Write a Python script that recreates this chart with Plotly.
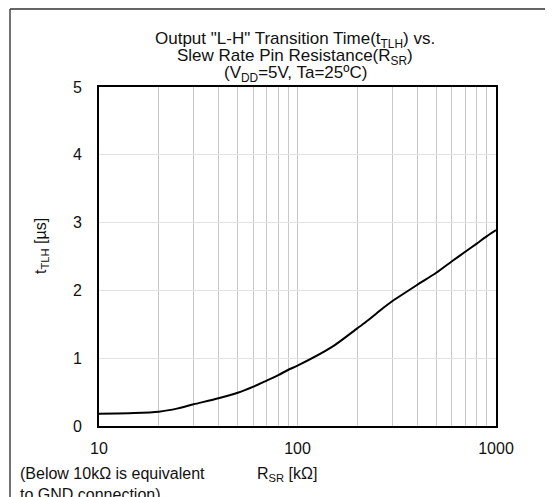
import plotly.graph_objects as go

# R_SR [kOhm] vs t_TLH [us]
R_SR = [10, 15, 20, 25, 30, 40, 50, 60, 70, 80, 90, 100, 150, 200, 220, 250, 270,
        300, 400, 500, 600, 700, 800, 900, 1000]
T_TLH = [0.18, 0.19, 0.21, 0.26, 0.32, 0.41, 0.49, 0.58, 0.67, 0.75, 0.83, 0.89,
         1.17, 1.44, 1.53, 1.66, 1.74, 1.84, 2.08, 2.26, 2.43, 2.57, 2.69, 2.80, 2.89]

GRID_X = [10, 20, 30, 40, 50, 60, 70, 80, 90, 100, 200, 300, 400, 500, 600, 700,
          800, 900, 1000]
X_LABELS = {10: "10", 100: "100", 1000: "1000"}
Y_TICKS = [0, 1, 2, 3, 4, 5]

FONT = "Liberation Sans, Arial, sans-serif"

# the page body puts the figure at (8, 8); work in page pixels below
OFF = 8
PAGE_W, PAGE_H = 553, 497
W, H = PAGE_W - OFF, PAGE_H - OFF
PLOT_L, PLOT_R, PLOT_T, PLOT_B = 99, 496, 87, 426
L, T = PLOT_L - OFF, PLOT_T - OFF
R, B = PAGE_W - PLOT_R, PAGE_H - PLOT_B
pw, ph = PLOT_R - PLOT_L, PLOT_B - PLOT_T


def px_x(p):
    return (p - PLOT_L) / pw


def px_y(p):
    return (PLOT_B - p) / ph


fig = go.Figure()
fig.add_trace(
    go.Scatter(
        x=R_SR,
        y=T_TLH,
        mode="lines",
        line=dict(color="black", width=2, shape="spline", smoothing=0.7),
        showlegend=False,
    )
)

fig.update_layout(
    width=W,
    height=H,
    margin=dict(l=L, r=R, t=T, b=B),
    plot_bgcolor="white",
    paper_bgcolor="white",
    font=dict(family=FONT, size=16, color="#111"),
)
fig.update_xaxes(
    type="log",
    range=[1, 3],
    tickmode="array",
    tickvals=GRID_X,
    ticktext=[X_LABELS.get(v, "") for v in GRID_X],
    showgrid=True,
    gridcolor="#c8c8c8",
    gridwidth=1,
    showline=True,
    mirror=True,
    linecolor="black",
    linewidth=2,
    ticks="outside",
    ticklen=7,
    tickcolor="rgba(0,0,0,0)",
    zeroline=False,
)
fig.update_yaxes(
    range=[0, 5],
    tickmode="array",
    tickvals=Y_TICKS,
    showgrid=True,
    gridcolor="#e2e2e2",
    gridwidth=1,
    showline=True,
    mirror=True,
    linecolor="black",
    linewidth=2,
    ticks="outside",
    ticklen=12,
    tickcolor="rgba(0,0,0,0)",
    zeroline=False,
)

# title lines
titles = [
    ('Output "L-H" Transition Time(t<sub>TLH</sub>) vs.', 40),
    ("Slew Rate Pin Resistance(R<sub>SR</sub>)", 57),
    ("(V<sub>DD</sub>=5V, Ta=25ºC)", 74),
]
for txt, yp in titles:
    fig.add_annotation(
        text=txt, xref="paper", yref="paper", x=px_x(295), y=px_y(yp),
        xanchor="center", yanchor="middle", showarrow=False,
        font=dict(size=17),
    )

# axis titles
fig.add_annotation(
    text="t<sub>TLH</sub> [µs]", xref="paper", yref="paper",
    x=px_x(42), y=px_y(246), textangle=-90, showarrow=False,
    xanchor="center", yanchor="middle",
)
fig.add_annotation(
    text="R<sub>SR</sub> [kΩ]", xref="paper", yref="paper",
    x=px_x(287), y=px_y(474), showarrow=False,
    xanchor="center", yanchor="middle",
)
fig.add_annotation(
    text="(Below 10kΩ is equivalent<br>to GND connection)", xref="paper", yref="paper",
    x=px_x(18), y=px_y(463), showarrow=False,
    xanchor="left", yanchor="top", align="left",
)

# outer frame: only the top and left edges fall inside the picture
frame_top, frame_left = px_y(9), px_x(10)
fig.add_shape(
    type="line", xref="paper", yref="paper",
    x0=frame_left, x1=px_x(PAGE_W), y0=frame_top, y1=frame_top,
    line=dict(color="#666", width=2),
)
fig.add_shape(
    type="line", xref="paper", yref="paper",
    x0=frame_left, x1=frame_left, y0=frame_top, y1=px_y(PAGE_H),
    line=dict(color="#444", width=1.5),
)

fig.write_html("out.html")
